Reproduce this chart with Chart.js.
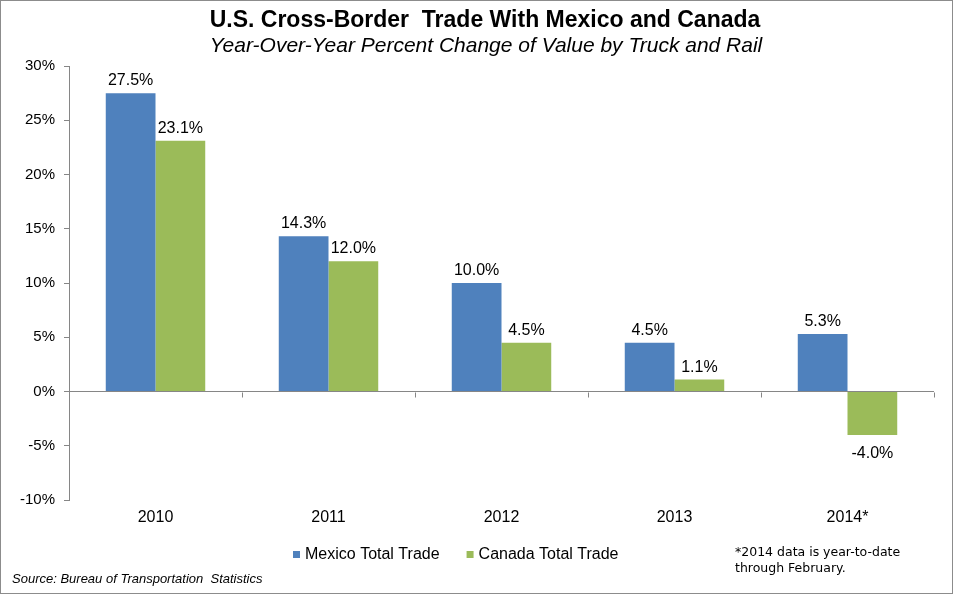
<!DOCTYPE html>
<html>
<head>
<title>U.S. Cross-Border Trade With Mexico and Canada</title>
<script src="https://cdn.jsdelivr.net/npm/chart.js"></script>
<style>
  body { margin: 0; background: #fff; }
  #wrap { position: relative; width: 953px; height: 595px; }
</style>
</head>
<body>
<div id="wrap"><canvas id="tradeChart" width="953" height="595"></canvas></div>
<script>
// data
const years = ['2010', '2011', '2012', '2013', '2014*'];
const mexicoTrade = [27.5, 14.3, 10.0, 4.5, 5.3];
const canadaTrade = [23.1, 12.0, 4.5, 1.1, -4.0];
const seriesNames = ['Mexico Total Trade', 'Canada Total Trade'];
const yMin = -10, yMax = 30, yStep = 5;

// texts
const titleText = 'U.S. Cross-Border  Trade With Mexico and Canada';
const subtitleText = 'Year-Over-Year Percent Change of Value by Truck and Rail';
const footnoteLines = ['*2014 data is year-to-date', 'through February.'];
const sourceText = 'Source: Bureau of Transportation  Statistics';

const BLUE = '#4F81BD';
const GREEN = '#9BBB59';
const AXIS = '#868686';
const FONT = '"Liberation Sans", Arial, sans-serif';

// extra drawing: labels on bars, ticks on the zero line, titles, legend, notes
const extras = {
    id: 'extras',
    afterDatasetsDraw(chart) {
        const ctx = chart.ctx;
        const xs = chart.scales.x, ys = chart.scales.y;
        const zeroY = Math.round(ys.getPixelForValue(0)) + 0.5;
        ctx.save();
        ctx.strokeStyle = AXIS;
        ctx.lineWidth = 1;
        ctx.beginPath();
        for (let i = 0; i <= years.length; i++) {
            const px = Math.round(xs.getPixelForValue(i - 0.5)) + 0.5;
            ctx.moveTo(px, zeroY);
            ctx.lineTo(px, zeroY + 5);
        }
        ctx.stroke();

        ctx.font = '16px ' + FONT;
        ctx.fillStyle = '#000';
        ctx.textAlign = 'center';
        ctx.textBaseline = 'alphabetic';
        chart.data.datasets.forEach((ds, di) => {
            chart.getDatasetMeta(di).data.forEach((bar, i) => {
                const v = ds.data[i];
                const ty = v >= 0 ? bar.y - 8 : bar.y + 23;
                ctx.fillText(v.toFixed(1) + '%', bar.x, ty);
            });
        });
        ctx.restore();
    },
    afterDraw(chart) {
        const ctx = chart.ctx;
        ctx.save();
        // frame
        ctx.strokeStyle = '#8c8c8c';
        ctx.lineWidth = 1;
        ctx.strokeRect(0.5, 0.5, 952, 593);

        ctx.fillStyle = '#000';
        ctx.textBaseline = 'alphabetic';
        ctx.textAlign = 'center';
        ctx.font = 'bold 23px ' + FONT;
        ctx.fillText(titleText, 485, 27);
        ctx.font = 'italic 21px ' + FONT;
        ctx.fillText(subtitleText, 486, 52);

        // legend
        ctx.textAlign = 'left';
        ctx.font = '16px ' + FONT;
        let lx = 293;
        chart.data.datasets.forEach(ds => {
            ctx.fillStyle = ds.backgroundColor;
            ctx.fillRect(lx, 551, 7, 7);
            ctx.fillStyle = '#000';
            ctx.fillText(ds.label, lx + 12, 559);
            lx += 12 + ctx.measureText(ds.label).width + 27;
        });

        // footnote
        ctx.font = '12.5px "DejaVu Sans", Verdana, sans-serif';
        footnoteLines.forEach((line, i) => ctx.fillText(line, 735, 556 + i * 16));

        // source
        ctx.font = 'italic 13px ' + FONT;
        ctx.fillText(sourceText, 12, 583);
        ctx.restore();
    }
};

const ctx = document.getElementById('tradeChart').getContext('2d');
const tradeChart = new Chart(ctx, {
    type: 'bar',
    data: {
        labels: years,
        datasets: [
            { label: seriesNames[0], data: mexicoTrade, backgroundColor: BLUE },
            { label: seriesNames[1], data: canadaTrade, backgroundColor: GREEN }
        ]
    },
    options: {
        responsive: false,
        animation: false,
        devicePixelRatio: 1,
        categoryPercentage: 0.575,
        barPercentage: 1.0,
        layout: { padding: { top: 66, right: 19, bottom: 55, left: 0 } },
        plugins: {
            legend: { display: false },
            title: { display: false },
            tooltip: { enabled: false }
        },
        scales: {
            x: {
                grid: { display: false, drawTicks: false },
                border: { display: false },
                ticks: {
                    color: '#000',
                    font: { family: FONT, size: 16 },
                    padding: 8,
                    maxRotation: 0,
                    autoSkip: false
                },
                afterFit(scale) { scale.height = 40; }
            },
            y: {
                min: yMin,
                max: yMax,
                grid: {
                    color: c => (c.tick && c.tick.value === 0) ? AXIS : 'rgba(0,0,0,0)',
                    tickColor: AXIS,
                    tickLength: 5
                },
                border: { display: true, color: AXIS },
                ticks: {
                    stepSize: yStep,
                    color: '#000',
                    font: { family: FONT, size: 15 },
                    padding: 9,
                    callback: v => v + '%'
                },
                afterFit(scale) { scale.width = 69; }
            }
        }
    },
    plugins: [extras]
});
</script>
</body>
</html>
